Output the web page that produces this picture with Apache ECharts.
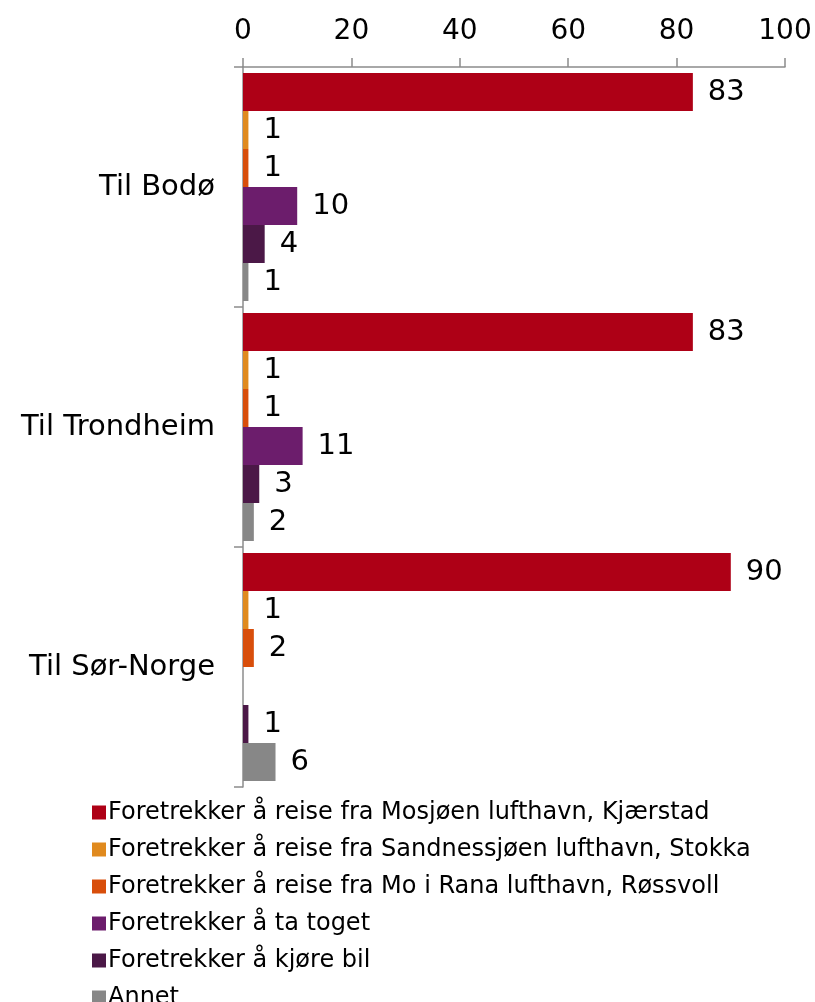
<!DOCTYPE html>
<html>
<head>
<meta charset="utf-8">
<script src="https://cdn.jsdelivr.net/npm/echarts@6/dist/echarts.min.js"></script>
<style>
  html, body { margin: 0; padding: 0; background: #fff; }
  #chart { width: 815px; height: 1002px; }
</style>
</head>
<body>
<div id="chart"></div>
<script>
// kategorier (topp til bunn)
const categories = ['Til Bodø', 'Til Trondheim', 'Til Sør-Norge'];

const seriesNames = [
  'Foretrekker å reise fra Mosjøen lufthavn, Kjærstad',
  'Foretrekker å reise fra Sandnessjøen lufthavn, Stokka',
  'Foretrekker å reise fra Mo i Rana lufthavn, Røssvoll',
  'Foretrekker å ta toget',
  'Foretrekker å kjøre bil',
  'Annet'
];

// verdier per serie, i samme rekkefølge som categories
const mosjoen = [83, 83, 90];
const sandnessjoen = [1, 1, 1];
const moIRana = [1, 1, 2];
const toget = [10, 11, null];
const bil = [4, 3, 1];
const annet = [1, 2, 6];

const colors = ['#AE0016', '#E08A1E', '#D84E0B', '#6C1D6C', '#4B1847', '#878787'];

const allValues = [mosjoen, sandnessjoen, moIRana, toget, bil, annet];

const FONT = 'DejaVu Sans';

const chart = echarts.init(document.getElementById('chart'));

const option = {
  animation: false,
  color: colors,
  textStyle: { fontFamily: FONT },
  grid: { left: 243, right: 30, top: 67, bottom: 215, containLabel: false },
  xAxis: {
    type: 'value',
    position: 'top',
    min: 0,
    max: 100,
    interval: 20,
    axisLine: { show: true, lineStyle: { color: '#8c8c8c', width: 1.5 } },
    axisTick: { show: true, length: 9, lineStyle: { color: '#8c8c8c', width: 1.5 } },
    splitLine: { show: false },
    axisLabel: { color: '#000', fontSize: 28, fontFamily: FONT, margin: 21 }
  },
  yAxis: {
    type: 'category',
    inverse: true,
    data: categories,
    axisLine: { show: true, lineStyle: { color: '#8c8c8c', width: 1.5 } },
    axisTick: { show: true, length: 9, lineStyle: { color: '#8c8c8c', width: 1.5 } },
    axisLabel: { color: '#000', fontSize: 29, fontFamily: FONT, margin: 28 }
  },
  legend: {
    orient: 'vertical',
    left: 87,
    top: 795,
    height: 220,
    icon: 'rect',
    itemWidth: 14,
    itemHeight: 14,
    itemGap: 12,
    textStyle: { color: '#000', fontSize: 24, fontFamily: FONT, lineHeight: 25, padding: [0, 0, 0, -3] },
    data: seriesNames
  },
  series: seriesNames.map((name, i) => ({
    name: name,
    type: 'bar',
    data: allValues[i],
    barGap: '0%',
    barCategoryGap: '5%',
    label: {
      show: true,
      position: 'right',
      distance: 15,
      color: '#000',
      fontSize: 29,
      fontFamily: FONT
    }
  }))
};

chart.setOption(option);
</script>
</body>
</html>
